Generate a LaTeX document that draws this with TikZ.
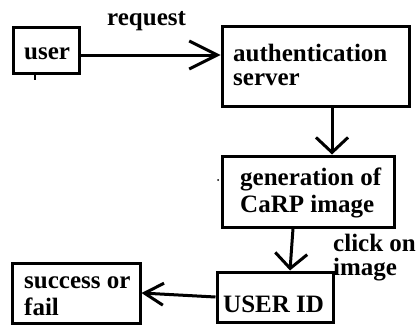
\documentclass[tikz,border=0pt]{standalone}
\usepackage{fontspec}
\setmainfont{Liberation Serif}
\usetikzlibrary{arrows.meta}
\begin{document}
\begin{tikzpicture}[x=1pt,y=-1pt,
  txt/.style={anchor=base west,inner sep=0pt,align=left,font=\bfseries\fontsize{25}{#1}\selectfont},
  txt/.default=24,
  boxnode/.style={draw,line width=3pt,inner sep=0pt},
  conn/.style={line width=3pt},
  barbA/.style={conn,-{Straight Barb[length=28pt,width=28pt,line width=3pt]}},
  barbB/.style={conn,-{Straight Barb[length=15pt,width=32pt,line width=3pt]}},
  barbC/.style={conn,-{Straight Barb[length=19pt,width=22pt,line width=3pt]}}]
\useasboundingbox (0,0) rectangle (417,324);
% boxes
\node[boxnode,minimum width=66pt,minimum height=46pt] (user) at (46,50) {};
\node[boxnode,minimum width=187pt,minimum height=80pt] (auth) at (315.5,66) {};
\node[boxnode,minimum width=172pt,minimum height=71pt] (gen) at (308,191.5) {};
\node[boxnode,minimum width=116pt,minimum height=50pt] (uid) at (275,297) {};
\node[boxnode,minimum width=128pt,minimum height=60pt] (succ) at (76,293) {};
% texts
\node[txt] (usert) at (24,59) {user};
\node[txt] (autht) at (233,85) {authentication\\server};
\node[txt=27] (gent) at (240,212) {generation of\\CaRP image};
\node[txt] (uidt) at (223,312) {USER ID};
\node[txt=27] (succt) at (24,315) {success or\\fail};
\node[txt] (req) at (107,25) {request};
\node[txt] (click) at (333,275) {click on\\image};
% connectors
\draw[barbA] ([yshift=-5pt]user.east) -- ([yshift=-5pt]user.east -| auth.west);
\draw[barbB] ([xshift=16.5pt]auth.south) -- ([xshift=16.5pt]auth.south |- gen.north);
\draw[barbB] ([xshift=-15pt]gen.south) -- ([xshift=15pt]uid.north);
\draw[barbC] (uid.west) -- (succ.east);
\draw[line width=2pt] ([xshift=-11pt]user.south) -- ++(0,5);
\fill (218,180) circle (1pt);
\end{tikzpicture}
\end{document}
